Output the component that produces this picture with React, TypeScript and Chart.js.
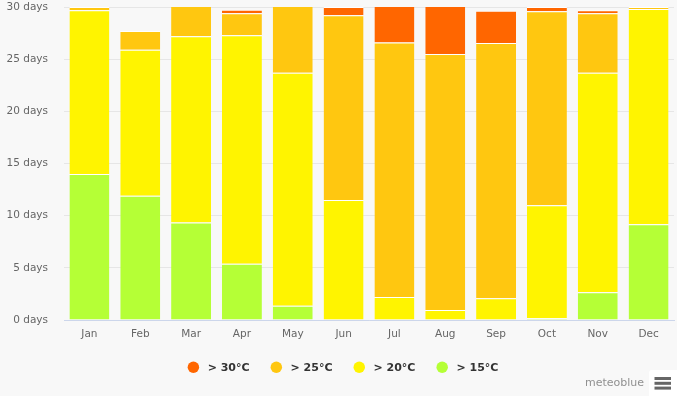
import { useEffect, useRef } from "react";
import { Chart, registerables } from "chart.js";

Chart.register(...registerables);

const months = ["Jan", "Feb", "Mar", "Apr", "May", "Jun", "Jul", "Aug", "Sep", "Oct", "Nov", "Dec"];
const over15 = [14.0, 11.9, 9.35, 5.4, 1.37, 0, 0, 0, 0, 0.16, 2.65, 9.17];
const over20 = [15.7, 14.0, 17.85, 21.9, 22.33, 11.5, 2.2, 0.96, 2.08, 10.84, 21.05, 20.63];
const over25 = [0.3, 1.8, 3.0, 2.1, 6.5, 17.7, 24.4, 24.54, 24.47, 18.6, 5.7, 0.2];
const over30 = [0, 0, 0, 0.34, 0, 0.8, 3.6, 4.6, 3.1, 0.4, 0.3, 0];
const seriesLabels = ["> 15°C", "> 20°C", "> 25°C", "> 30°C"];
const seriesColors = ["#b5ff36", "#fff400", "#ffc710", "#ff6600"];
const yMin = 0;
const yMax = 30;
const yStep = 5;
const creditText = "meteoblue";

const BG = "#f8f8f8";
const FONT = '"DejaVu Sans", sans-serif';

const extrasPlugin = {
  id: "extras",
  afterDraw(chart: any) {
    const ctx = chart.ctx as CanvasRenderingContext2D;
    const W = chart.width;
    ctx.save();
    // custom legend (reverse order of stacking)
    const items = chart.data.datasets.map((d: any) => ({ label: d.label, color: d.backgroundColor })).reverse();
    ctx.font = `bold 11px ${FONT}`;
    const circleD = 11.5;
    const textGap = 8.5;
    const itemGap = 21;
    const widths = items.map((it: any) => circleD + textGap + ctx.measureText(it.label).width);
    const total = widths.reduce((a: number, b: number) => a + b, 0) + itemGap * (items.length - 1);
    let x = W / 2 + 4.5 - total / 2;
    const cy = 367.3;
    items.forEach((it: any, i: number) => {
      ctx.fillStyle = it.color;
      ctx.beginPath();
      ctx.arc(x + circleD / 2, cy, circleD / 2, 0, Math.PI * 2);
      ctx.fill();
      ctx.fillStyle = "#333333";
      ctx.textBaseline = "middle";
      ctx.textAlign = "left";
      ctx.fillText(it.label, x + circleD + textGap, cy + 0.5);
      x += widths[i] + itemGap;
    });
    // context button background
    ctx.fillStyle = "#ffffff";
    ctx.beginPath();
    (ctx as any).roundRect(649, 370, 30, 30, 3);
    ctx.fill();
    // hamburger
    ctx.fillStyle = "#666666";
    ctx.fillRect(654.5, 377, 16.5, 3);
    ctx.fillRect(654.5, 381.8, 16.5, 3);
    ctx.fillRect(654.5, 386.6, 16.5, 3);
    // credits
    ctx.font = `11px ${FONT}`;
    ctx.fillStyle = "#909090";
    ctx.textAlign = "right";
    ctx.textBaseline = "middle";
    ctx.fillText(creditText, 644, 383);
    ctx.restore();
  },
};

export default function App() {
  const ref = useRef<HTMLCanvasElement | null>(null);

  useEffect(() => {
    document.body.style.margin = "0";
    document.body.style.background = BG;
    const canvas = ref.current;
    if (!canvas) return;
    const values = [over15, over20, over25, over30];
    const chart = new Chart(canvas, {
      type: "bar",
      data: {
        labels: months,
        datasets: values.map((v, i) => ({
          label: seriesLabels[i],
          data: v,
          backgroundColor: seriesColors[i],
          borderColor: "#ffffff",
          borderWidth: { top: 1, left: 0, right: 0, bottom: 0 },
          borderSkipped: "start",
          barPercentage: 0.786,
          categoryPercentage: 1,
          clip: 0,
        })) as any,
      },
      options: {
        animation: false,
        responsive: true,
        maintainAspectRatio: false,
        layout: { padding: { top: 7, left: 0, right: 3, bottom: 46 } },
        plugins: {
          legend: { display: false },
          tooltip: { enabled: false },
          title: { display: false },
        },
        scales: {
          x: {
            stacked: true,
            grid: { display: false, drawTicks: false },
            border: { display: true, color: "#ccd6eb", width: 1 },
            ticks: {
              color: "#666666",
              font: { family: FONT, size: 10.5 },
              padding: 8,
              maxRotation: 0,
              autoSkip: false,
            },
            afterFit: (scale: any) => {
              scale.height = 30;
            },
          },
          y: {
            stacked: true,
            min: yMin,
            max: yMax,
            grid: {
              color: "#e6e6e6",
              lineWidth: 1,
              drawTicks: true,
              tickLength: 16,
              tickColor: "rgba(0,0,0,0)",
            },
            border: { display: false },
            ticks: {
              stepSize: yStep,
              color: "#666666",
              font: { family: FONT, size: 10.5 },
              padding: 0,
              callback: (v: any) => `${v} days`,
            },
            afterFit: (scale: any) => {
              scale.width = 64;
            },
          },
        },
      },
      plugins: [extrasPlugin],
    });
    return () => chart.destroy();
  }, []);

  return (
    <div style={{ width: 677, height: 396, position: "relative", background: BG }}>
      <canvas ref={ref} />
    </div>
  );
}
